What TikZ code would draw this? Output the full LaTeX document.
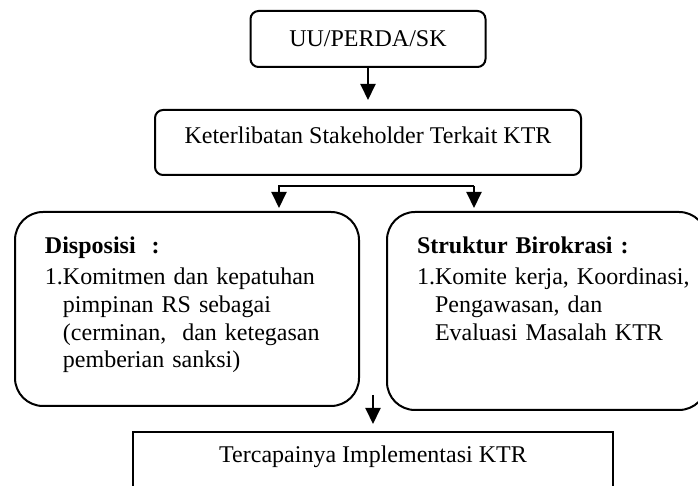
\documentclass[tikz,border=0pt]{standalone}
\usepackage{fontspec}
\setmainfont{Liberation Serif}
\usepackage{tikz}
\usetikzlibrary{arrows.meta,positioning,calc}

\begin{document}
\begin{tikzpicture}[
  x=0.5pt, y=-0.5pt,
  node distance=20.5pt,
  box/.style={
    rectangle, rounded corners=4pt,
    draw=black, line width=1pt,
    inner sep=0pt, align=center,
    font=\fontsize{12pt}{13.8pt}\selectfont
  },
  panel/.style={
    rectangle, rounded corners=14pt,
    draw=black, line width=1pt,
    inner xsep=15pt, inner ysep=0pt,
    text height=21pt, align=left,
    font=\fontsize{12pt}{13.8pt}\selectfont
  },
  goal/.style={
    rectangle, draw=black, line width=1pt,
    minimum width=240pt, inner sep=0pt,
    text height=15.5pt, text depth=40pt,
    font=\fontsize{12pt}{13.8pt}\selectfont
  },
  arr/.style={-{Triangle[width=7.5pt,length=8pt]}, line width=1pt}
]
  \useasboundingbox (0,0) rectangle (698,486);
  \clip (0,0) rectangle (698,486);

  \node[box, minimum width=117.5pt, minimum height=28pt] (uu) at (368,39) {UU/PERDA/SK};
  \node[box, minimum width=213pt, minimum height=32.5pt, text height=8.5pt, text depth=7.5pt,
    below=of uu] (ktr) {Keterlibatan Stakeholder Terkait KTR};

  \node[panel, text width=142pt, text depth=76pt, anchor=north west] (disp) at (14,211)
    {\textbf{Disposisi\ \ :}\\[1.7pt]
     \begin{tabular}[t]{@{}l@{}l@{}}
       1.&Komitmen dan kepatuhan\\
         &pimpinan RS sebagai\\
         &(cerminan,\ \ dan ketegasan\\
         &pemberian sanksi)
     \end{tabular}};
  \node[panel, text width=130pt, text depth=78pt, anchor=north west] (birok) at (386,211)
    {\textbf{Struktur Birokrasi :}\\[1.7pt]
     \begin{tabular}[t]{@{}l@{}l@{}}
       1.&Komite kerja, Koordinasi,\\
         &Pengawasan, dan\\
         &Evaluasi Masalah KTR
     \end{tabular}};

  \node[goal, anchor=north] (tcp) at (373,431) {Tercapainya Implementasi KTR};

  \coordinate (brL) at (279,186);
  \coordinate (brR) at (474,186);
  \coordinate (mid) at (373,395);

  \draw[arr, shorten >=4.5pt] (uu) -- (ktr);
  \draw[arr, shorten >=1.5pt] (brR) -- (brL) -- (brL |- disp.north);
  \draw[arr, shorten >=1.5pt] (brR) -- (brR |- birok.north);
  \draw[arr, shorten >=3.5pt] (mid) -- (tcp.north);
\end{tikzpicture}
\end{document}
